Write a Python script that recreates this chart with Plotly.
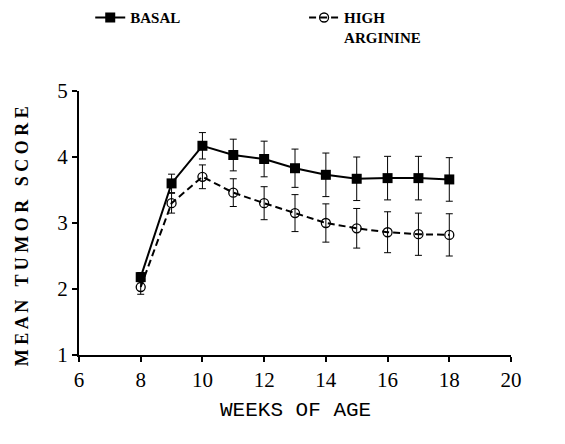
import plotly.graph_objects as go

weeks = [8, 9, 10, 11, 12, 13, 14, 15, 16, 17, 18]
basal = [2.18, 3.60, 4.17, 4.03, 3.97, 3.83, 3.73, 3.67, 3.68, 3.68, 3.66]
basal_err = [0.07, 0.14, 0.20, 0.24, 0.27, 0.29, 0.33, 0.33, 0.33, 0.33, 0.33]
high_arg = [2.03, 3.30, 3.70, 3.46, 3.30, 3.15, 3.00, 2.92, 2.86, 2.83, 2.82]
high_arg_err = [0.11, 0.15, 0.18, 0.21, 0.25, 0.28, 0.29, 0.30, 0.31, 0.32, 0.32]

x_ticks = [6, 8, 10, 12, 14, 16, 18, 20]
y_ticks = [1, 2, 3, 4, 5]

SERIF = "Liberation Serif"
legend_font = dict(family=SERIF, size=15, color="black", weight="bold")

fig = go.Figure()
fig.add_trace(go.Scatter(
    x=weeks, y=basal, name="BASAL", mode="lines+markers",
    line=dict(color="black", width=2),
    marker=dict(symbol="square", size=10, color="black"),
    error_y=dict(type="data", array=basal_err, color="black", thickness=1, width=3.5),
    legend="legend",
))
fig.add_trace(go.Scatter(
    x=weeks, y=high_arg, name="HIGH<br>ARGININE", mode="lines+markers",
    line=dict(color="black", width=2, dash="7px,4px"),
    marker=dict(symbol="circle-open", size=9, color="black", line=dict(width=1.3)),
    error_y=dict(type="data", array=high_arg_err, color="black", thickness=1, width=3.5),
    legend="legend2",
))

fig.update_layout(
    width=565, height=444,
    margin=dict(l=71, r=62, t=83, b=97, autoexpand=False),
    paper_bgcolor="white", plot_bgcolor="white",
    font=dict(family=SERIF, color="black"),
    showlegend=True,
    legend=dict(x=0.026, y=1.34, xanchor="left", yanchor="top", font=legend_font,
                bgcolor="rgba(0,0,0,0)", valign="top"),
    legend2=dict(x=0.521, y=1.34, xanchor="left", yanchor="top", font=legend_font,
                 bgcolor="rgba(0,0,0,0)", valign="top"),
    xaxis=dict(
        range=[6, 20], tickvals=x_ticks, ticktext=[str(t) for t in x_ticks],
        showgrid=False, zeroline=False, showline=True, linecolor="black", linewidth=2,
        ticks="outside", ticklen=5, tickwidth=1.5, tickcolor="black",
        tickfont=dict(family=SERIF, size=21, color="black"),
    ),
    yaxis=dict(
        range=[1, 5], tickvals=y_ticks, ticktext=[str(t) for t in y_ticks],
        showgrid=False, zeroline=False, showline=True, linecolor="black", linewidth=2,
        ticks="outside", ticklen=5, tickwidth=1.5, tickcolor="black",
        tickfont=dict(family=SERIF, size=21, color="black"),
        ticklabelstandoff=0,
    ),
    annotations=[
        dict(text="M E A N   T U M O R   S C O R E", xref="paper", yref="paper",
             x=-0.132, y=0.45, xanchor="center", yanchor="middle", textangle=-90,
             showarrow=False, font=dict(family=SERIF, size=18, color="black", weight="bold")),
        dict(text="WEEKS OF AGE", xref="paper", yref="paper",
             x=0.5, y=-0.21, xanchor="center", yanchor="middle",
             showarrow=False, font=dict(family="Liberation Mono", size=21, color="black")),
    ],
)

fig.write_html("out.html")
